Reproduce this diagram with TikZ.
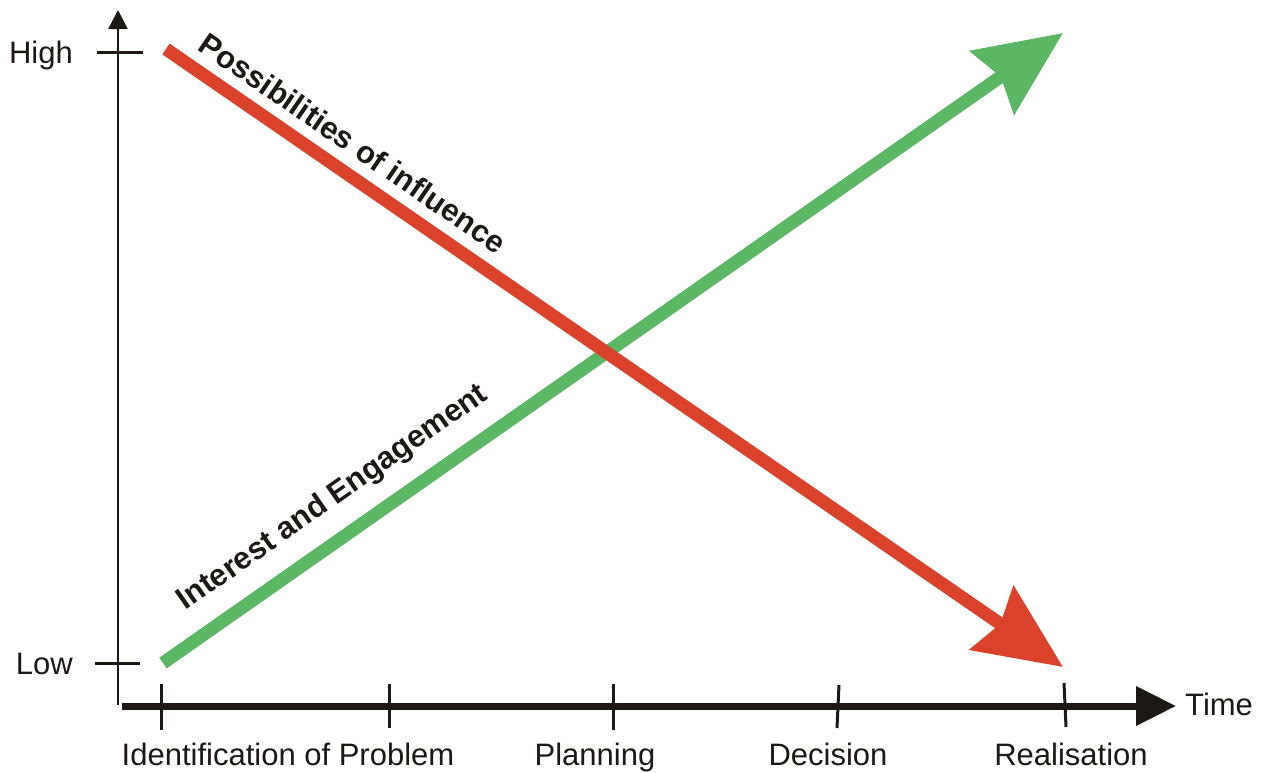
\documentclass[tikz,border=0pt]{standalone}
\usepackage{fontspec}
\setmainfont{Liberation Sans}
\usetikzlibrary{arrows.meta}
\definecolor{axisblack}{RGB}{28,24,20}
\definecolor{infred}{RGB}{218,66,44}
\definecolor{enggreen}{RGB}{92,183,101}
\tikzset{
  axisline/.style={draw=axisblack, line width=2.5pt},
  timeline/.style={draw=axisblack, line width=7pt},
  tickline/.style={draw=axisblack, line width=3pt},
  trendred/.style={draw=infred, line width=13pt, -{Stealth[length=86pt,width=76pt,inset=10pt]}},
  trendgreen/.style={draw=enggreen, line width=13pt, -{Stealth[length=86pt,width=76pt,inset=10pt]}},
  axislabel/.style={font=\fontsize{31}{36}\selectfont, text=axisblack, inner sep=0pt},
  curvelabel/.style={font=\bfseries\fontsize{31}{36}\selectfont, text=axisblack, inner sep=0pt},
}
\begin{document}
\begin{tikzpicture}[x=1pt,y=-1pt]
\useasboundingbox (0,0) rectangle (1266,772);
% axes
\coordinate (vbot) at (118,705);
\coordinate (vtop) at (118,10);
\coordinate (hleft) at (122,706);
\coordinate (htip) at (1176,706);
\draw[axisline, -{Triangle[length=19pt,width=19pt]}] (vbot) -- (vtop);
\draw[timeline, -{Triangle[length=40pt,width=38pt]}] (hleft) -- (htip);
% y ticks
\coordinate (hiA) at (97,52); \coordinate (hiB) at (143,52);
\coordinate (loA) at (95,663); \coordinate (loB) at (140,663);
\draw[tickline] (hiA) -- (hiB);
\draw[tickline] (loA) -- (loB);
\node[axislabel, anchor=base east] (high) at (73,63) {High};
\node[axislabel, anchor=base east] (low) at (73,674) {Low};
% x ticks
\coordinate (t1a) at (161,684); \coordinate (t1b) at (161,730);
\coordinate (t2a) at (389,684); \coordinate (t2b) at (389,728);
\coordinate (t3a) at (613,684); \coordinate (t3b) at (613,730);
\coordinate (t4a) at (839,685); \coordinate (t4b) at (837,728);
\coordinate (t5a) at (1064,683); \coordinate (t5b) at (1066,727);
\foreach \i in {1,...,5} {\draw[tickline] (t\i a) -- (t\i b);}
\node[axislabel, anchor=base] (ident) at (288,765) {Identification of Problem};
\node[axislabel, anchor=base] (plan) at (595,765) {Planning};
\node[axislabel, anchor=base] (decis) at (828,765) {Decision};
\node[axislabel, anchor=base] (real) at (1071,765) {Realisation};
\node[axislabel, anchor=base west] (time) at (1185,715) {Time};
% trend lines
\coordinate (gstart) at (163,663);
\coordinate (gtip) at (1063,33);
\coordinate (rstart) at (166,49);
\coordinate (rtip) at (1063,667);
\draw[trendgreen] (gstart) -- (gtip);
\draw[trendred] (rstart) -- (rtip);
\node[curvelabel, rotate=-34.4] (poss) at (353,143) {Possibilities of influence};
\node[curvelabel, rotate=35] (inter) at (333,498) {Interest and Engagement};
\end{tikzpicture}
\end{document}
